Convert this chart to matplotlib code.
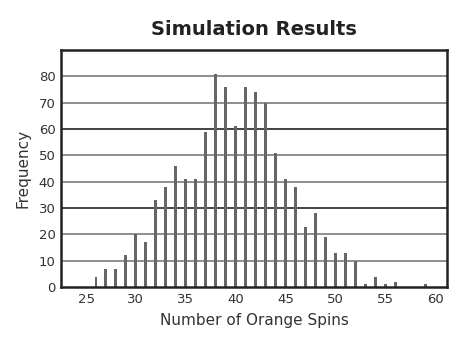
import matplotlib
matplotlib.use("Agg")
import matplotlib.pyplot as plt

spins = [26, 27, 28, 29, 30, 31, 32, 33, 34, 35, 36, 37, 38, 39, 40, 41, 42,
         43, 44, 45, 46, 47, 48, 49, 50, 51, 52, 53, 54, 55, 56, 59]
frequency = [4, 7, 7, 12, 20, 17, 33, 38, 46, 41, 41, 59, 81, 76, 61, 76, 74,
             70, 51, 41, 38, 23, 28, 19, 13, 13, 10, 1, 4, 1, 2, 1]
x_ticks = [25, 30, 35, 40, 45, 50, 55, 60]
y_ticks = [0, 10, 20, 30, 40, 50, 60, 70, 80]

plt.rcParams['font.family'] = ['DejaVu Sans']

fig = plt.figure(figsize=(4.7, 3.43), dpi=100)
ax = fig.add_axes([0.13, 0.163, 0.821, 0.691])

# horizontal rules: every 30 in black, the rest in grey
for v in y_ticks[1:]:
    dark = (v % 30 == 0)
    ax.axhline(v, color='#111111' if dark else '#707070', lw=1.1, zorder=1)

ax.bar(spins, frequency, width=0.3, color='#666666', zorder=2)

ax.set_xlim(22.5, 61.2)
ax.set_ylim(0, 90)
ax.set_xticks(x_ticks)
ax.set_yticks(y_ticks)
ax.tick_params(length=0, labelsize=9.5, colors='#333333', pad=4)
for s in ax.spines.values():
    s.set_linewidth(1.8)
    s.set_color('#222222')

ax.set_xlabel('Number of Orange Spins', fontsize=11, color='#333333', labelpad=5)
ax.set_ylabel('Frequency', fontsize=11, color='#333333', labelpad=6)
ax.set_title('Simulation Results', fontsize=14, fontweight='bold',
             color='#222222', pad=11)

fig.savefig('out.png', dpi=100)
